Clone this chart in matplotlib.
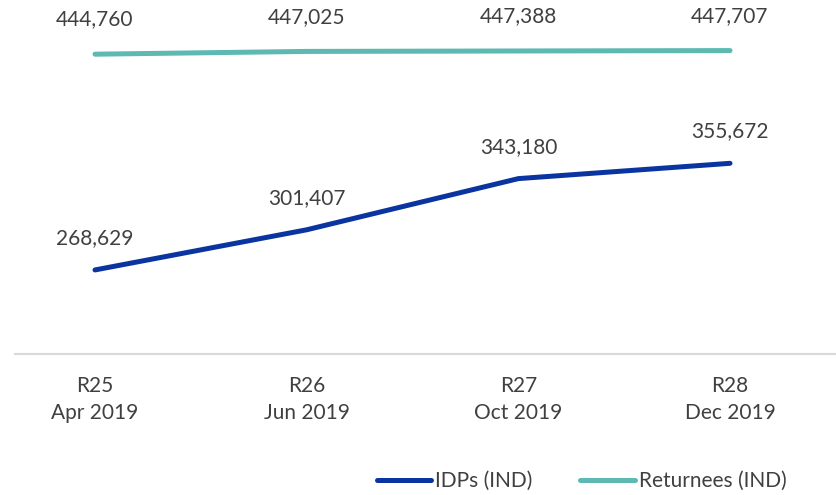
import matplotlib.pyplot as plt
import numpy as np

rounds = ['R25\nApr 2019', 'R26\nJun 2019', 'R27\nOct 2019', 'R28\nDec 2019']
idps = [268629, 301407, 343180, 355672]
returnees = [444760, 447025, 447388, 447707]

plt.rcParams['font.family'] = ['Lato', 'DejaVu Sans']
text_color = '#404040'

fig = plt.figure(figsize=(8.37, 4.95), dpi=100)
ax = fig.add_axes([15 / 837, 1 - 354 / 495, 820 / 837, 354 / 495])

xs = np.arange(len(rounds))
ax.plot(xs, idps, color='#0A35A0', lw=3.6, solid_capstyle='round', label='IDPs (IND)')
ax.plot(xs, returnees, color='#5DB9B1', lw=3.6, solid_capstyle='round', label='Returnees (IND)')

# data labels above each point
for x, v in zip(xs, idps):
    ax.annotate(f'{v:,}', (x, v), xytext=(0, 23), textcoords='offset points',
                ha='center', va='center', fontsize=15, color=text_color)
for x, v in zip(xs, returnees):
    ax.annotate(f'{v:,}', (x, v), xytext=(0, 25), textcoords='offset points',
                ha='center', va='center', fontsize=15, color=text_color)

ax.set_xlim(-0.378, 3.496)
ax.set_ylim(200000, 489000)
ax.set_xticks(xs)
ax.set_xticklabels(rounds, fontsize=15, color=text_color, linespacing=1.45)
ax.tick_params(axis='x', length=0, pad=16)
ax.set_yticks([])
for s in ['top', 'left', 'right']:
    ax.spines[s].set_visible(False)
ax.spines['bottom'].set_color('#D9D9D9')
ax.spines['bottom'].set_linewidth(1.5)

fig.legend(loc='center', bbox_to_anchor=(0.695, 0.028), ncol=2, frameon=False,
           fontsize=15, handlelength=2.6, handletextpad=0.2, columnspacing=2.3,
           labelcolor=text_color)

fig.savefig('out.png', dpi=100)
